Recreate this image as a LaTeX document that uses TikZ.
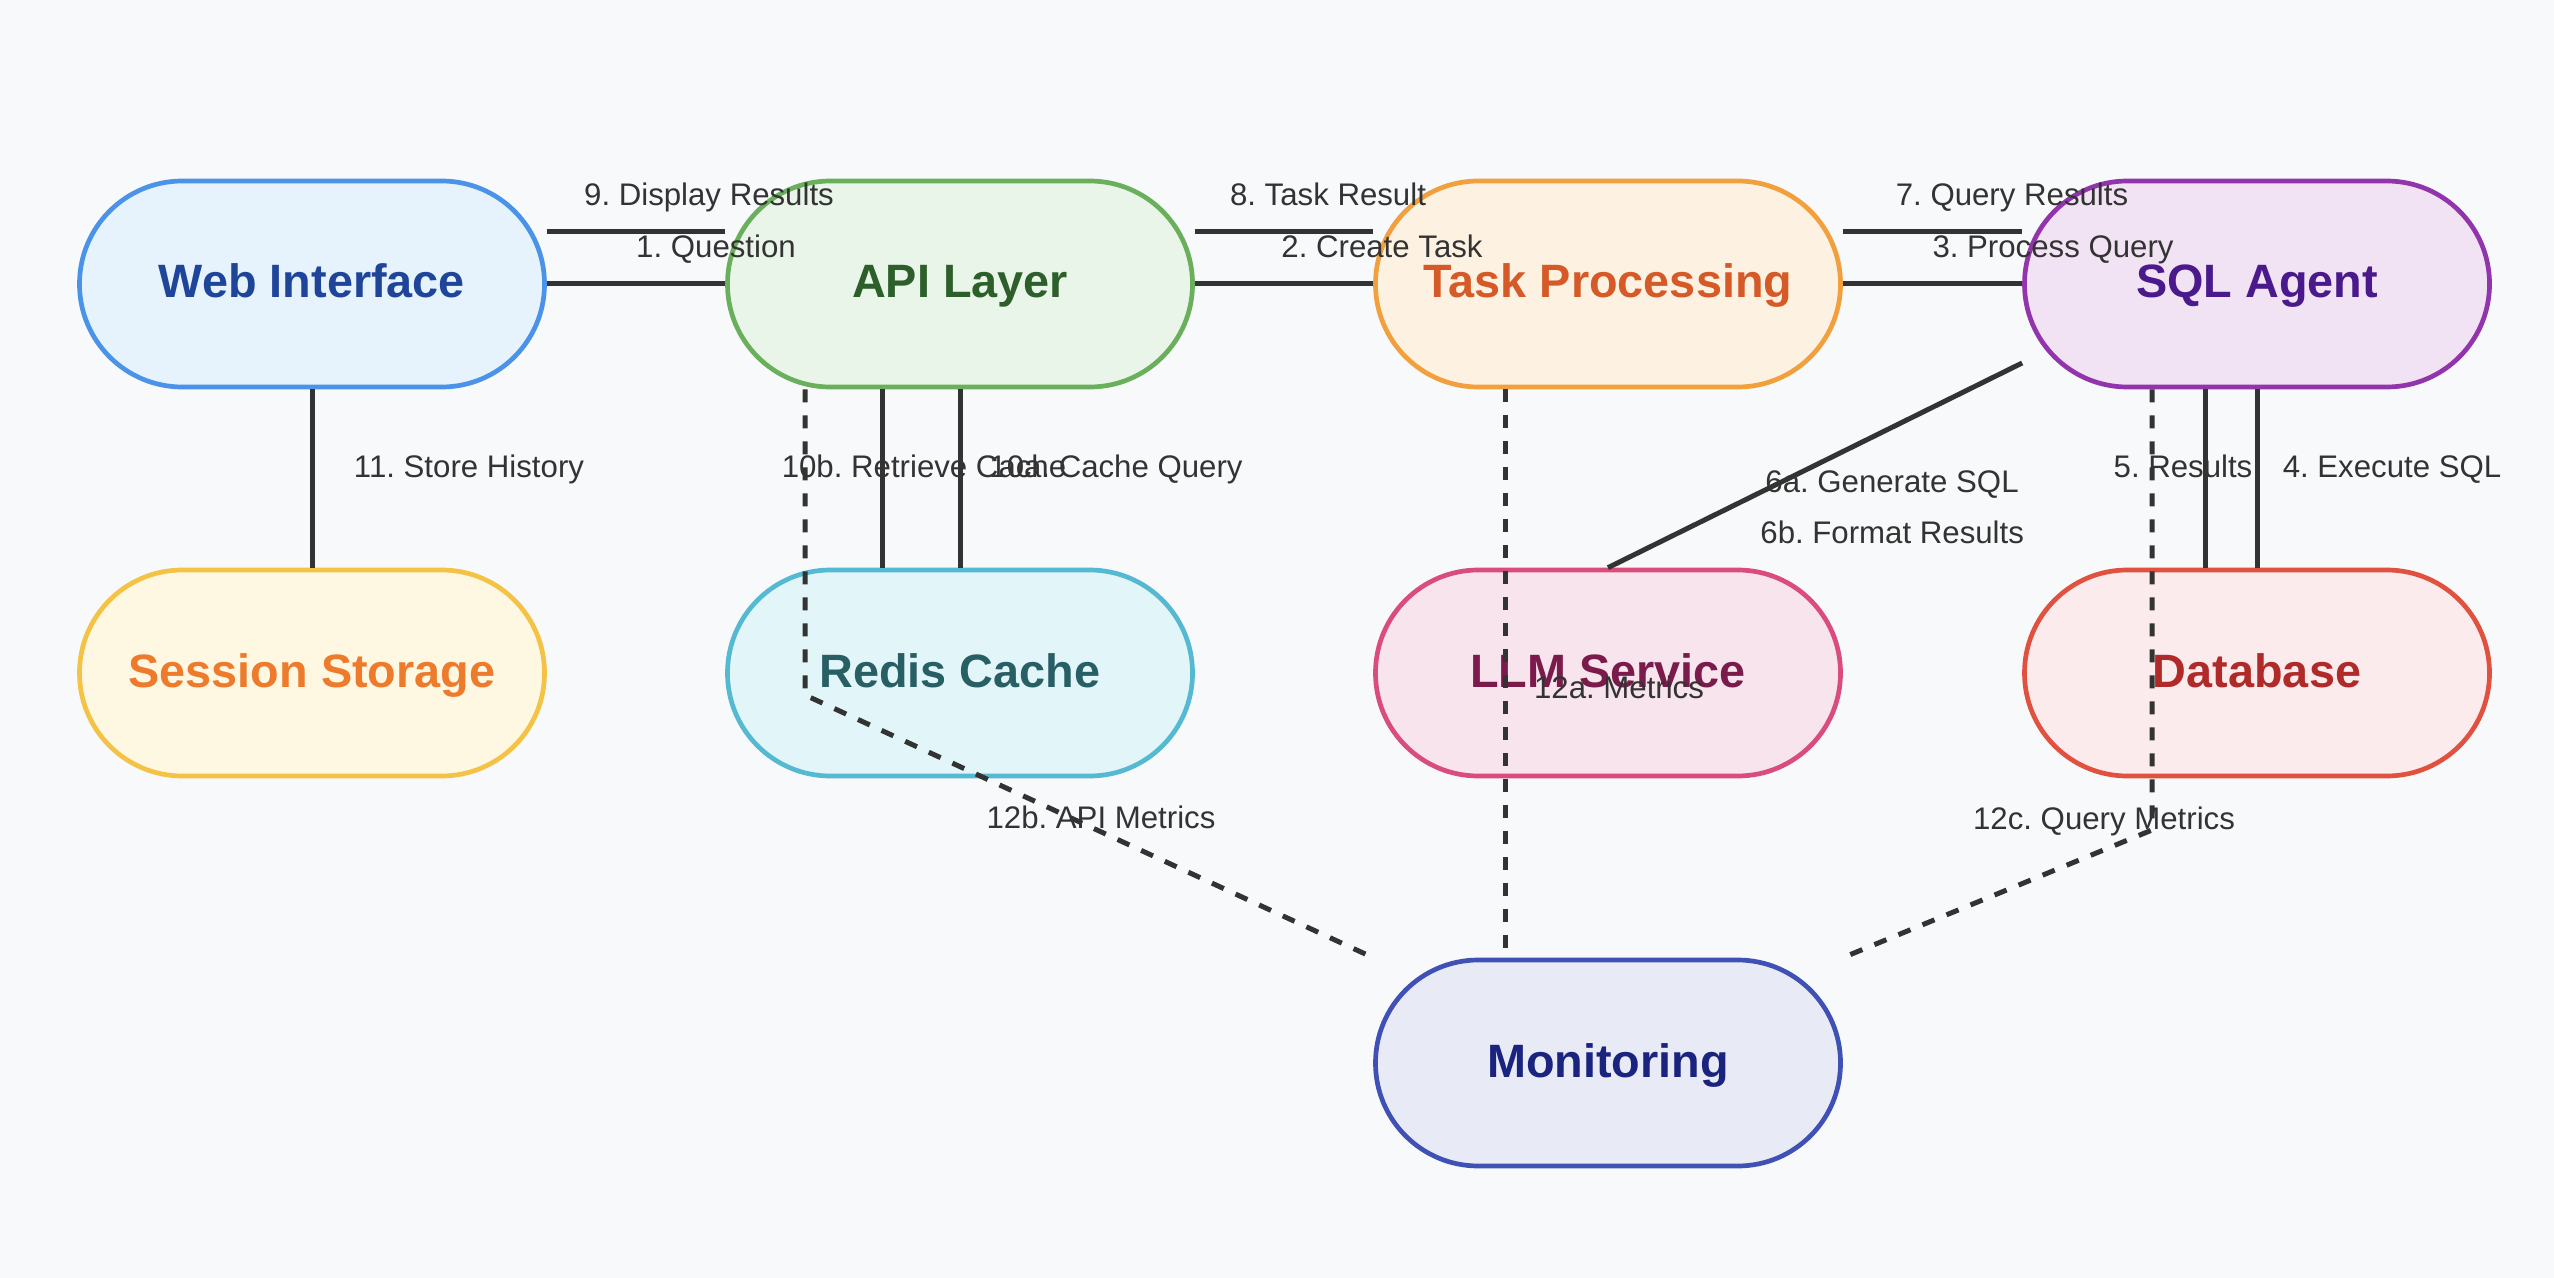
\documentclass[tikz,border=0pt]{standalone}
\usepackage{fontspec}
\setmainfont{Liberation Sans}
\usetikzlibrary{calc}
\frenchspacing
\definecolor{bg}{HTML}{F8F9FA}
\definecolor{lineclr}{HTML}{333333}
\definecolor{lblclr}{HTML}{333333}
\definecolor{webD}{HTML}{4A93E8}\definecolor{webF}{HTML}{E6F2FC}\definecolor{webT}{HTML}{1E4599}
\definecolor{apiD}{HTML}{6AAF5C}\definecolor{apiF}{HTML}{E9F5E8}\definecolor{apiT}{HTML}{2D5F2A}
\definecolor{taskD}{HTML}{F2A03D}\definecolor{taskF}{HTML}{FDF2E2}\definecolor{taskT}{HTML}{D55A27}
\definecolor{sqlD}{HTML}{9234AC}\definecolor{sqlF}{HTML}{F1E3F3}\definecolor{sqlT}{HTML}{4A1A8C}
\definecolor{sesD}{HTML}{F4C245}\definecolor{sesF}{HTML}{FEF7E2}\definecolor{sesT}{HTML}{EE7A2C}
\definecolor{redD}{HTML}{56B9D2}\definecolor{redF}{HTML}{E2F5F9}\definecolor{redT}{HTML}{275F65}
\definecolor{llmD}{HTML}{D94C7C}\definecolor{llmF}{HTML}{F8E4EC}\definecolor{llmT}{HTML}{7B1B4B}
\definecolor{dbD}{HTML}{E1513F}\definecolor{dbF}{HTML}{FCEBEC}\definecolor{dbT}{HTML}{B02A2A}
\definecolor{monD}{HTML}{3F51B5}\definecolor{monF}{HTML}{E8EAF6}\definecolor{monT}{HTML}{1A237E}
\tikzset{
  box/.style={draw, line width=2.35pt, rounded corners=51.4pt,
    minimum width=232.5pt, minimum height=103pt, inner sep=0pt,
    text height=17pt, text depth=3pt,
    font=\fontsize{23.4pt}{28pt}\selectfont\bfseries},
  conn/.style={draw=lineclr, line width=2.5pt},
  dconn/.style={conn, dash pattern=on 6.5pt off 6.5pt},
  lbl/.style={font=\fontsize{15.6pt}{18pt}\selectfont, text=lblclr, inner sep=0pt, anchor=base},
}
\begin{document}
\begin{tikzpicture}[x=0.5pt,y=-0.5pt]
\fill[bg] (0,0) rectangle (2554,1278);
\useasboundingbox (0,0) rectangle (2554,1278);
% nodes
\node[box, draw=webD, fill=webF, text=webT] (web) at (312,284) {Web Interface};
\node[box, draw=apiD, fill=apiF, text=apiT] (api) at (960,284) {API Layer};
\node[box, draw=taskD, fill=taskF, text=taskT] (task) at (1608,284) {Task Processing};
\node[box, draw=sqlD, fill=sqlF, text=sqlT] (sql) at (2257,284) {SQL Agent};
\node[box, draw=sesD, fill=sesF, text=sesT] (ses) at (312,673) {Session Storage};
\node[box, draw=redD, fill=redF, text=redT] (redis) at (960,673) {Redis Cache};
\node[box, draw=llmD, fill=llmF, text=llmT] (llm) at (1608,673) {LLM Service};
\node[box, draw=dbD, fill=dbF, text=dbT] (db) at (2257,673) {Database};
\node[box, draw=monD, fill=monF, text=monT] (mon) at (1608,1063) {Monitoring};
% solid connectors
\draw[conn] ($(web.east)+(0,-52)$) -- ($(api.west)+(0,-52)$);
\draw[conn] (web.east) -- (api.west);
\draw[conn] ($(api.east)+(0,-52)$) -- ($(task.west)+(0,-52)$);
\draw[conn] (api.east) -- (task.west);
\draw[conn] ($(task.east)+(0,-52)$) -- ($(sql.west)+(0,-52)$);
\draw[conn] (task.east) -- (sql.west);
\draw[conn] (web.south) -- (ses.north);
\draw[conn] ($(api.south)+(-78,0)$) -- ($(redis.north)+(-78,0)$);
\draw[conn] (api.south) -- (redis.north);
\draw[conn] ($(sql.west)+(0,79)$) -- (llm.north);
\draw[conn] ($(sql.south)+(-52,0)$) -- ($(db.north)+(-52,0)$);
\draw[conn] (sql.south) -- (db.north);
% dashed connectors
\draw[dconn] ($(api.south)+(-155,0)$) -- ($(redis.center)+(-155,22)$) -- (mon.north west);
\draw[dconn] ($(task.south)+(-103,0)$) -- ($(mon.north)+(-103,0)$);
\draw[dconn] ($(sql.south)+(-105,0)$) -- ($(db.center)+(-105,157)$) -- (mon.north east);
% labels
\node[lbl] (l9) at (709,206) {9. Display Results};
\node[lbl] (l1) at (716,258) {1. Question};
\node[lbl] (l8) at (1328,206) {8. Task Result};
\node[lbl] (l2) at (1382,258) {2. Create Task};
\node[lbl] (l7) at (2012,206) {7. Query Results};
\node[lbl] (l3) at (2053,258) {3. Process Query};
\node[lbl] (l11) at (469,478) {11. Store History};
\node[lbl] (l10b) at (924,478) {10b. Retrieve Cache};
\node[lbl] (l10a) at (1116,478) {10a. Cache Query};
\node[lbl] (l5) at (2183,478) {5. Results};
\node[lbl] (l4) at (2392,478) {4. Execute SQL};
\node[lbl, anchor=base west] (l6a) at (1765,493) {6a. Generate SQL};
\node[lbl, anchor=base west] (l6b) at (1760,543) {6b. Format Results};
\node[lbl] (l12a) at (1619,698) {12a. Metrics};
\node[lbl] (l12b) at (1101,828) {12b. API Metrics};
\node[lbl] (l12c) at (2104,829) {12c. Query Metrics};
\end{tikzpicture}
\end{document}
